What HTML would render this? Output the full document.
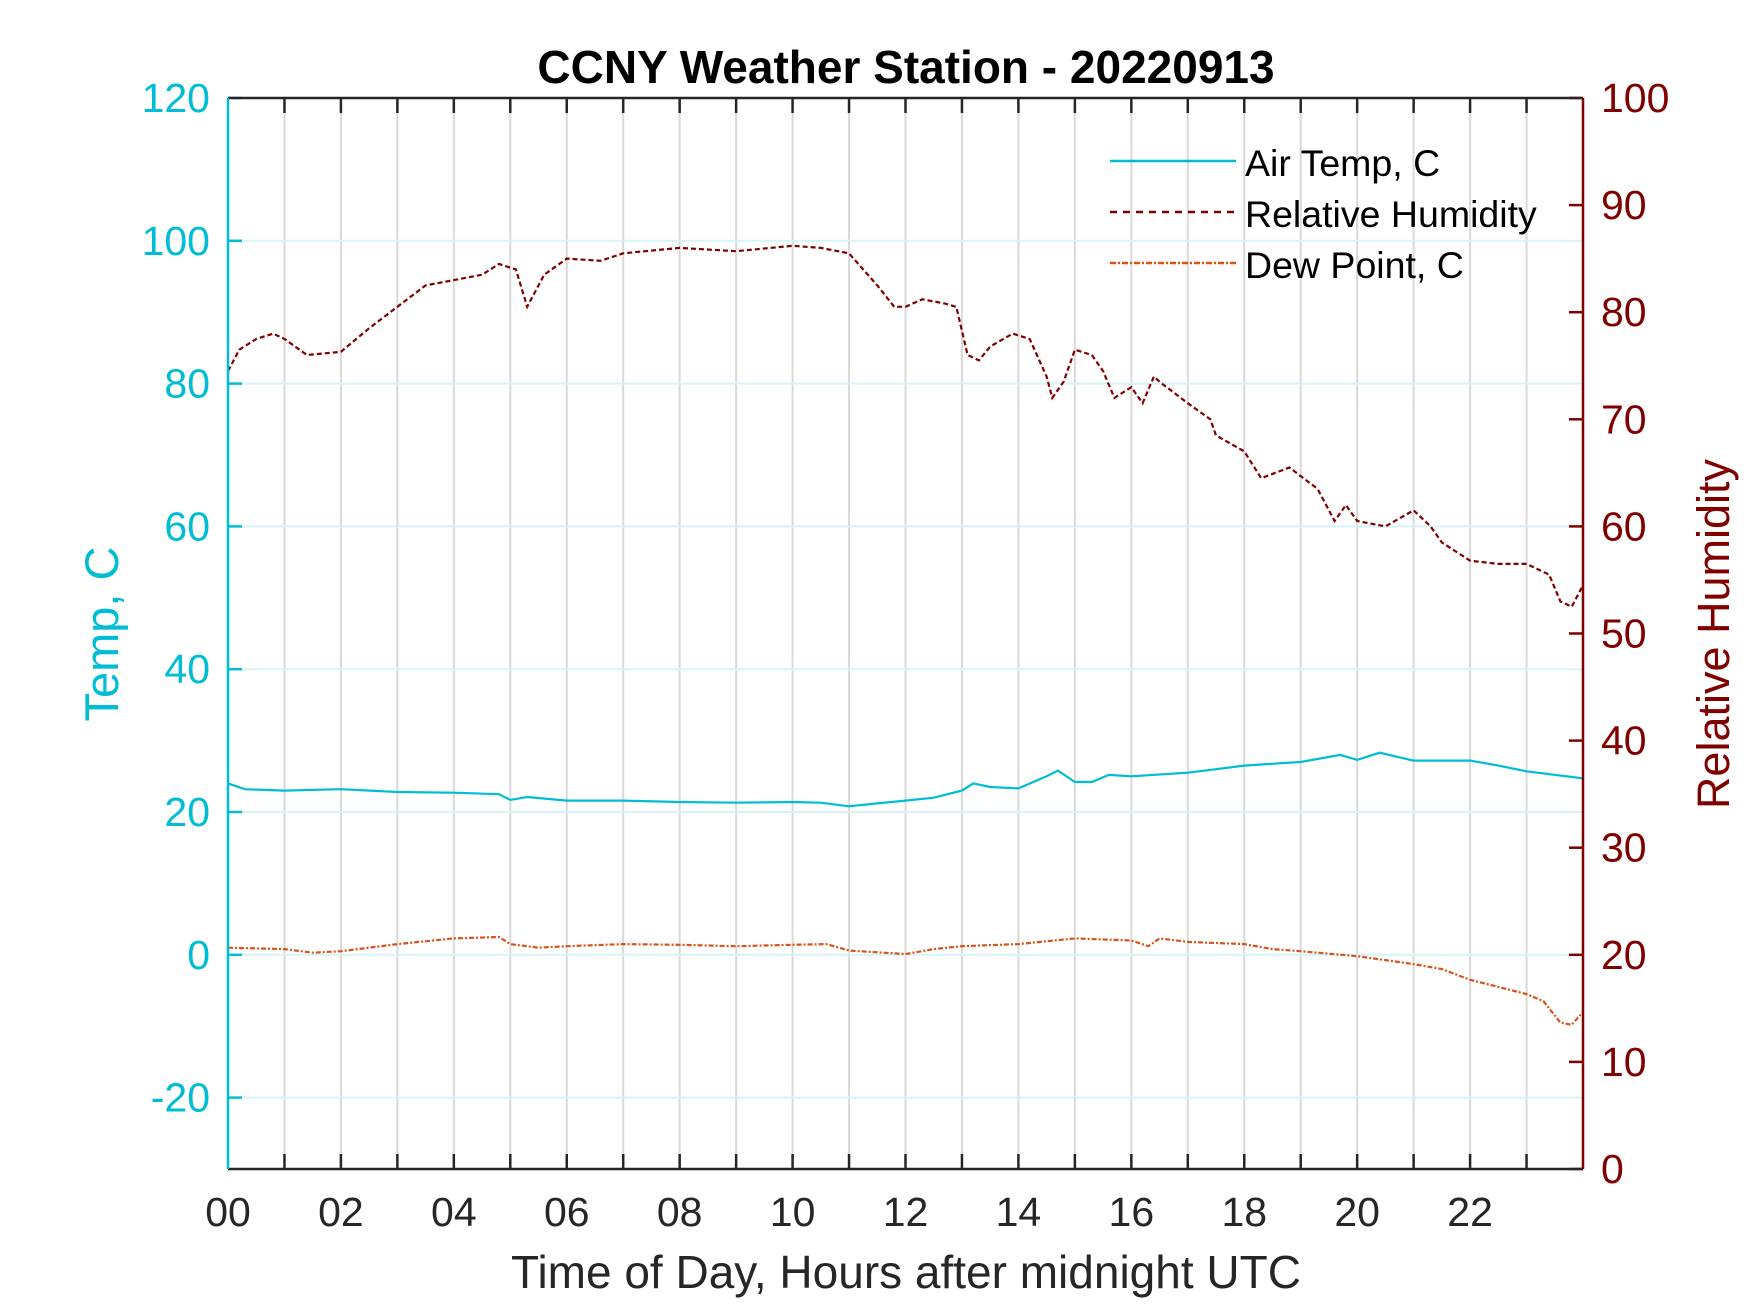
<!DOCTYPE html>
<html><head><meta charset="utf-8"><style>
html,body{margin:0;padding:0;background:#fff}
svg{display:block}
text{font-family:"Liberation Sans",Arial,sans-serif}
</style></head><body>
<svg id="chart" width="1750" height="1313" viewBox="0 0 1750 1313">
<g id="grid"></g>
<g id="series"></g>
<g id="axes"></g>
<text x="906" y="83" text-anchor="middle" font-size="46" font-weight="bold" fill="#000">CCNY Weather Station - 20220913</text>
<text transform="translate(118,634) rotate(-90)" text-anchor="middle" font-size="47" fill="#00bcd4">Temp, C</text>
<text transform="translate(1729,634) rotate(-90)" text-anchor="middle" font-size="45" fill="#800000">Relative Humidity</text>
<text x="906" y="1288" text-anchor="middle" font-size="46" fill="#262626">Time of Day, Hours after midnight UTC</text>
<g>
<line x1="1110" y1="161" x2="1236" y2="161" stroke="#00bcd4" stroke-width="2.5"/>
<text x="1245" y="176" font-size="37.5" fill="#000">Air Temp, C</text>
<line x1="1110" y1="212" x2="1236" y2="212" stroke="#800000" stroke-width="2.5" stroke-dasharray="7,6"/>
<text x="1245" y="227" font-size="37.5" fill="#000">Relative Humidity</text>
<line x1="1110" y1="263" x2="1236" y2="263" stroke="#d95319" stroke-width="2.5" stroke-dasharray="6,2,2,2"/>
<text x="1245" y="278" font-size="37.5" fill="#000">Dew Point, C</text>
</g>
</svg>
<script>
const tempHours=[0,0.3,1,2,3,4,4.8,5,5.3,6,7,8,9,10,10.5,11,11.5,12,12.5,13,13.2,13.5,14,14.5,14.7,15,15.3,15.6,16,17,17.5,18,19,19.7,20,20.4,21,22,22.5,23,24];
const tempValues=[24,23.2,23,23.2,22.8,22.7,22.5,21.7,22.1,21.6,21.6,21.4,21.3,21.4,21.3,20.8,21.2,21.6,22,23,24,23.5,23.3,25,25.8,24.2,24.2,25.2,25,25.5,26,26.5,27,28,27.3,28.3,27.2,27.2,26.5,25.7,24.7];
const rhHours=[0,0.2,0.5,0.8,1,1.4,2,2.5,3,3.5,4,4.5,4.8,5.1,5.3,5.6,6,6.6,7,8,9,10,10.5,11,11.5,11.8,12,12.3,12.7,12.9,13.1,13.3,13.5,13.9,14.2,14.5,14.6,14.8,15,15.3,15.5,15.7,16,16.2,16.4,16.5,17,17.4,17.5,18,18.3,18.8,19.3,19.6,19.8,20,20.5,21,21.3,21.5,22,22.5,23,23.4,23.6,23.8,24];
const rhValues=[74.5,76.5,77.5,78,77.5,76,76.3,78.5,80.5,82.5,83,83.5,84.5,84,80.5,83.5,85,84.8,85.5,86,85.7,86.2,86,85.5,82.5,80.5,80.5,81.2,80.8,80.5,76,75.5,76.8,78,77.5,74,72,73.5,76.5,76,74.5,72,73,71.5,74,73.5,71.5,70,68.5,67,64.5,65.5,63.5,60.5,62,60.5,60,61.5,60,58.5,56.8,56.5,56.5,55.5,53,52.5,54.5];
const dewHours=[0,1,1.5,2,3,4,4.8,5,5.5,6,7,8,9,10,10.6,11,12,12.5,13,14,15,16,16.3,16.5,17,18,18.5,19,20,21,21.5,22,22.5,23,23.3,23.6,23.8,24];
const dewValues=[1,0.8,0.3,0.5,1.5,2.3,2.5,1.5,1,1.2,1.5,1.4,1.2,1.4,1.5,0.6,0.1,0.8,1.2,1.5,2.3,2,1.2,2.3,1.8,1.5,0.8,0.5,-0.2,-1.3,-2,-3.5,-4.5,-5.5,-6.5,-9.5,-9.8,-8];
const xTicks=[0,2,4,6,8,10,12,14,16,18,20,22];
const leftTicks=[-20,0,20,40,60,80,100,120];
const rightTicks=[0,10,20,30,40,50,60,70,80,90,100];

const X0=228,X1=1583,Y0=98,Y1=1169;
const xs=h=>X0+(h/24)*(X1-X0);
const yl=v=>Y1-(v+30)/150*(Y1-Y0);
const yr=v=>Y1-v/100*(Y1-Y0);
const NS='http://www.w3.org/2000/svg';
function mk(parent,tag,attrs){const e=document.createElementNS(NS,tag);for(const k in attrs)e.setAttribute(k,attrs[k]);parent.appendChild(e);return e;}
const gridG=document.getElementById('grid'),axesG=document.getElementById('axes'),seriesG=document.getElementById('series');
for(let h=1;h<24;h++){
  const g=mk(gridG,'line',{x1:xs(h),x2:xs(h),y1:Y0,y2:Y1,stroke:'#d9d9d9','stroke-width':2});
  
  
  const t1=mk(axesG,'line',{x1:xs(h),x2:xs(h),y1:Y0,y2:Y0+15,stroke:'#262626','stroke-width':2.5});
  
  
  const t2=mk(axesG,'line',{x1:xs(h),x2:xs(h),y1:Y1,y2:Y1-15,stroke:'#262626','stroke-width':2.5});
  
  
}
leftTicks.forEach(v=>{
  if(v!==120){const g=mk(gridG,'line',{x1:X0,x2:X1,y1:yl(v),y2:yl(v),stroke:'#d6f3f7','stroke-width':2});
  
  }
  const t=mk(axesG,'text',{x:X0-18,y:yl(v)+14,'text-anchor':'end','font-size':41,fill:'#00bcd4'});
  t.textContent=v;
  
  
  const tk=mk(axesG,'line',{x1:X0,x2:X0+14,y1:yl(v),y2:yl(v),stroke:'#00bcd4','stroke-width':2.5});
  
  
});
rightTicks.forEach(v=>{
  const t=mk(axesG,'text',{x:X1+18,y:yr(v)+14,'font-size':41,fill:'#800000'});
  t.textContent=v;
  
  
  const tk=mk(axesG,'line',{x1:X1,x2:X1-14,y1:yr(v),y2:yr(v),stroke:'#800000','stroke-width':2.5});
  
  
});
xTicks.forEach(h=>{
  const t=mk(axesG,'text',{x:xs(h),y:1226,'text-anchor':'middle','font-size':41,fill:'#262626'});
  t.textContent=String(h).padStart(2,'0');
  
  
});
const topLine=mk(axesG,'line',{x1:X0,x2:X1,y1:Y0,y2:Y0,stroke:'#262626','stroke-width':2.5});


const botLine=mk(axesG,'line',{x1:X0,x2:X1,y1:Y1,y2:Y1,stroke:'#262626','stroke-width':2.5});


const leftLine=mk(axesG,'line',{x1:X0,x2:X0,y1:Y0,y2:Y1,stroke:'#00bcd4','stroke-width':2.5});


const rightLine=mk(axesG,'line',{x1:X1,x2:X1,y1:Y0,y2:Y1,stroke:'#800000','stroke-width':2.5});


function pts(hs,vs,yf){return hs.map((h,i)=>xs(h).toFixed(1)+','+yf(vs[i]).toFixed(1)).join(' ');}
const p1=mk(seriesG,'polyline',{points:pts(tempHours,tempValues,yl),fill:'none',stroke:'#00bcd4','stroke-width':2.2});


const p2=mk(seriesG,'polyline',{points:pts(rhHours,rhValues,yr),fill:'none',stroke:'#800000','stroke-width':2.2,'stroke-dasharray':'5,3'});


const p3=mk(seriesG,'polyline',{points:pts(dewHours,dewValues,yl),fill:'none',stroke:'#d95319','stroke-width':2.2,'stroke-dasharray':'5,2,2,2'});


</script>
</body></html>
